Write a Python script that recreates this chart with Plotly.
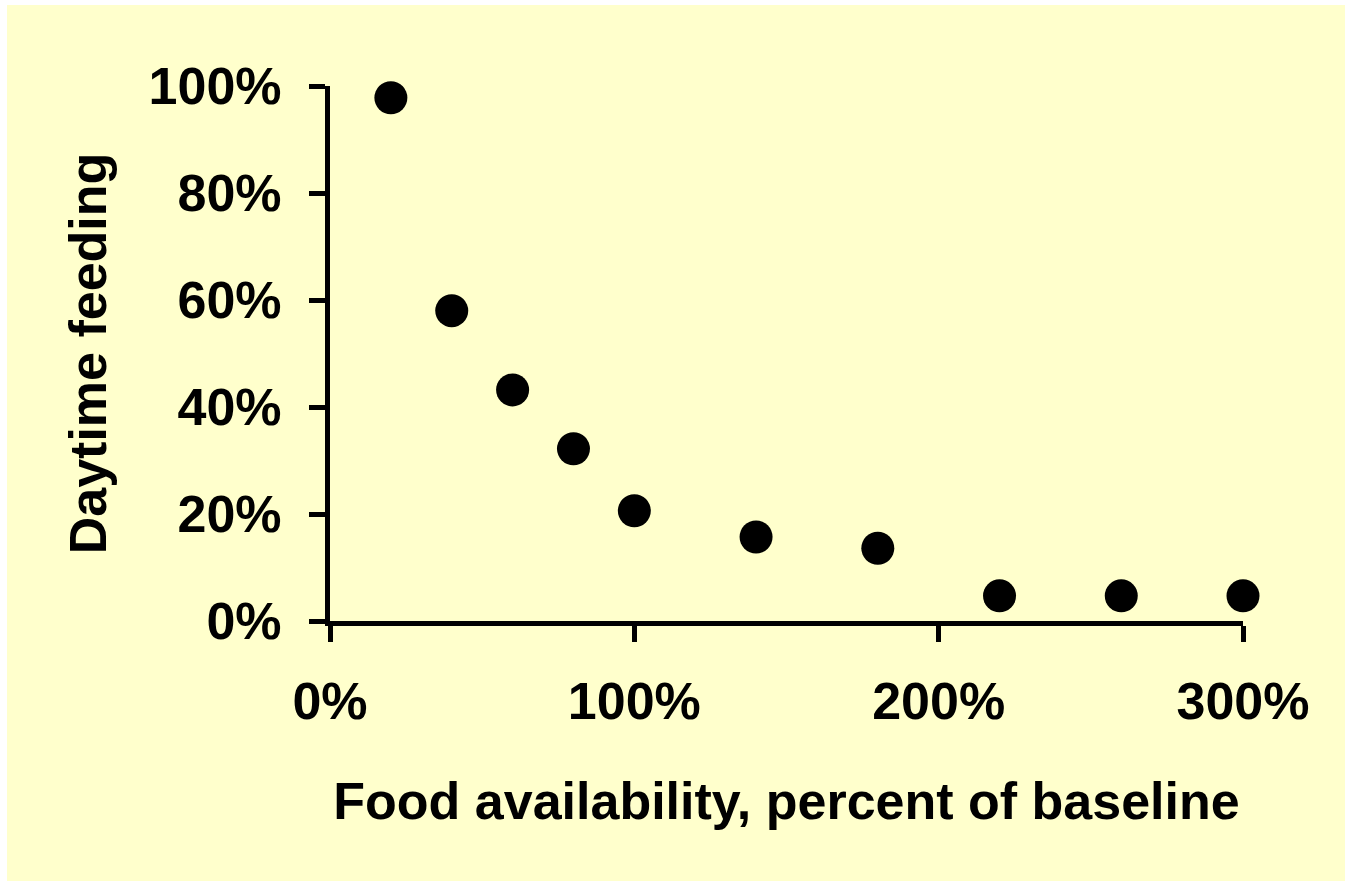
import plotly.graph_objects as go

food_availability = [0.20, 0.40, 0.60, 0.80, 1.00, 1.40, 1.80, 2.20, 2.60, 3.00]
daytime_feeding = [0.978, 0.58, 0.432, 0.322, 0.206, 0.157, 0.136, 0.047, 0.047, 0.047]

x_ticks = [0, 1, 2, 3]
x_tick_labels = ["0%", "100%", "200%", "300%"]
y_ticks = [0, 0.2, 0.4, 0.6, 0.8, 1.0]
y_tick_labels = ["0%", "20%", "40%", "60%", "80%", "100%"]

W, H = 1345, 881
ml, mr, mt, mb = 330, 102, 86, 260
pw, ph = W - ml - mr, H - mt - mb

def px_to_paper_x(px):
    return (px - ml) / pw

def px_to_paper_y(py):
    return (H - mb - py) / ph

FONT = "Liberation Sans, Arial, sans-serif"
BG = "#FFFFCC"
FS = 52

fig = go.Figure()
fig.add_trace(go.Scatter(
    x=food_availability, y=daytime_feeding, mode="markers",
    marker=dict(color="black", size=33, line=dict(width=0)),
    cliponaxis=False, showlegend=False, hoverinfo="x+y"))

fig.add_shape(type="rect", xref="paper", yref="paper", layer="below",
              x0=px_to_paper_x(7), x1=px_to_paper_x(W + 5),
              y0=px_to_paper_y(H + 5), y1=px_to_paper_y(5),
              fillcolor=BG, line=dict(width=0))

fig.update_layout(
    width=W, height=H,
    margin=dict(l=ml, r=mr, t=mt, b=mb, pad=0),
    paper_bgcolor="white", plot_bgcolor="rgba(0,0,0,0)",
    font=dict(family=FONT, size=FS, color="black"),
    xaxis=dict(range=[0, 3], tickvals=x_ticks, ticktext=x_tick_labels,
               showline=True, linecolor="black", linewidth=5,
               ticks="outside", ticklen=16, tickwidth=5, tickcolor="black",
               showgrid=False, zeroline=False, ticklabelstandoff=15,
               tickfont=dict(family=FONT, size=FS, color="black", weight="bold"),
               title=dict(text="<b>Food availability, percent of baseline</b>",
                          font=dict(family=FONT, size=FS, color="black"), standoff=55)),
    yaxis=dict(range=[0, 1], tickvals=y_ticks, ticktext=y_tick_labels,
               showline=True, linecolor="black", linewidth=5,
               ticks="outside", ticklen=16, tickwidth=5, tickcolor="black",
               showgrid=False, zeroline=False, ticklabelstandoff=17,
               tickfont=dict(family=FONT, size=FS, color="black", weight="bold"),
               title=dict(text="<b>Daytime feeding</b>",
                          font=dict(family=FONT, size=FS, color="black"), standoff=27)),
)

fig.write_html("out.html", config={"displayModeBar": False},
               post_script="document.body.style.margin='0';")
